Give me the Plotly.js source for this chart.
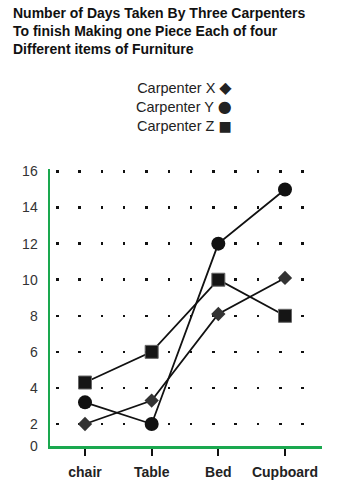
<!DOCTYPE html>
<html>
<head>
<meta charset="utf-8">
<script src="https://cdn.plot.ly/plotly-3.0.1.min.js"></script>
<style>html,body{margin:0;padding:0;background:#fff;}#chart{width:345px;height:484px;}</style>
</head>
<body>
<div id="chart"></div>
<script>
// ---- data ----
var categories = ["chair", "Table", "Bed", "Cupboard"];
var seriesNames = ["Carpenter X", "Carpenter Y", "Carpenter Z"];
var carpenterX = [2, 3.3, 8.1, 10.1];
var carpenterY = [3.2, 2, 12, 15];
var carpenterZ = [4.3, 6, 10, 8];
var yTickValues = [2, 4, 6, 8, 10, 12, 14, 16];
var yTickLabels = ["2", "4", "6", "8", "10", "12", "14", "16"];
var legendGlyphs = ["\u25C6", "\u25CF", "\u25A0"];
var titleLines = ["Number of Days Taken By Three Carpenters",
                  "To finish Making one Piece Each of four",
                  "Different items of Furniture"];

// hand-drawn axis: base of axis sits a little below the "2" line
var yBase = 0.78, yTop = 16.14;

var allSeries = [carpenterX, carpenterY, carpenterZ];
var symbols = ["diamond", "circle", "square"];
var markerSizes = [11, 14, 13];
var markerColors = ["#333333", "#111111", "#151515"];

var traces = allSeries.map(function (vals, i) {
  return {
    type: "scatter",
    mode: "lines+markers",
    name: seriesNames[i],
    x: categories,
    y: vals,
    line: {color: "#111", width: 1.8},
    marker: {symbol: symbols[i], size: markerSizes[i], color: markerColors[i],
             line: {color: i === 2 ? "#666" : markerColors[i], width: i === 2 ? 1 : 0}},
    showlegend: false,
    hoverinfo: "x+y+name"
  };
});

var tickVals = [yBase].concat(yTickValues);
var tickText = ["0"].concat(yTickLabels);

var plotTop = 169, plotBottom = 446, plotLeft = 50, plotRight = 322;
function py(p) { return (plotBottom - p) / (plotBottom - plotTop); }
function px(p) { return (p - plotLeft) / (plotRight - plotLeft); }

var legendText = seriesNames.map(function (n, i) {
  return n + ' <span style="font-family:DejaVu Sans;font-size:' + (i === 2 ? 14 : 16) + 'px">' +
         legendGlyphs[i] + '</span>';
}).join("<br>");

var annotations = [
  {
    xref: "paper", yref: "paper", x: px(11), y: py(30.5),
    xanchor: "left", yanchor: "middle", align: "left", showarrow: false,
    text: titleLines.join("<br>"),
    font: {family: "Liberation Sans, Arial, sans-serif", size: 14, color: "#111", weight: "bold"}
  },
  {
    xref: "paper", yref: "paper", x: px(234), y: py(106.5),
    xanchor: "right", yanchor: "middle", align: "right", showarrow: false,
    text: legendText,
    font: {family: "Liberation Sans, Arial, sans-serif", size: 14.5, color: "#222"}
  }
];

var layout = {
  width: 345, height: 484,
  paper_bgcolor: "#fff", plot_bgcolor: "#fff",
  margin: {l: plotLeft, r: 345 - plotRight, t: plotTop, b: 484 - plotBottom, pad: 0},
  xaxis: {
    type: "category",
    range: [-0.525, 3.555],
    showgrid: false, zeroline: false,
    showline: true, linecolor: "#1aa84f", linewidth: 2.5,
    ticks: "outside", ticklen: 7, tickwidth: 2, tickcolor: "#111",
    ticklabelstandoff: 5,
    tickfont: {family: "Liberation Sans, Arial, sans-serif", size: 14, color: "#222", weight: "bold"},
    fixedrange: true
  },
  yaxis: {
    range: [yBase, yTop],
    tickmode: "array", tickvals: tickVals, ticktext: tickText,
    showgrid: true, gridcolor: "#111", gridwidth: 2.5, griddash: "0px,6px,2.5px,13.8px",
    zeroline: false,
    showline: true, linecolor: "#1aa84f", linewidth: 2.5,
    ticks: "", ticklabelstandoff: 7,
    tickfont: {family: "Liberation Sans, Arial, sans-serif", size: 14, color: "#333"},
    fixedrange: true
  },
  annotations: annotations,
  showlegend: false
};

Plotly.newPlot("chart", traces, layout, {displayModeBar: false, staticPlot: true});
</script>
</body>
</html>
